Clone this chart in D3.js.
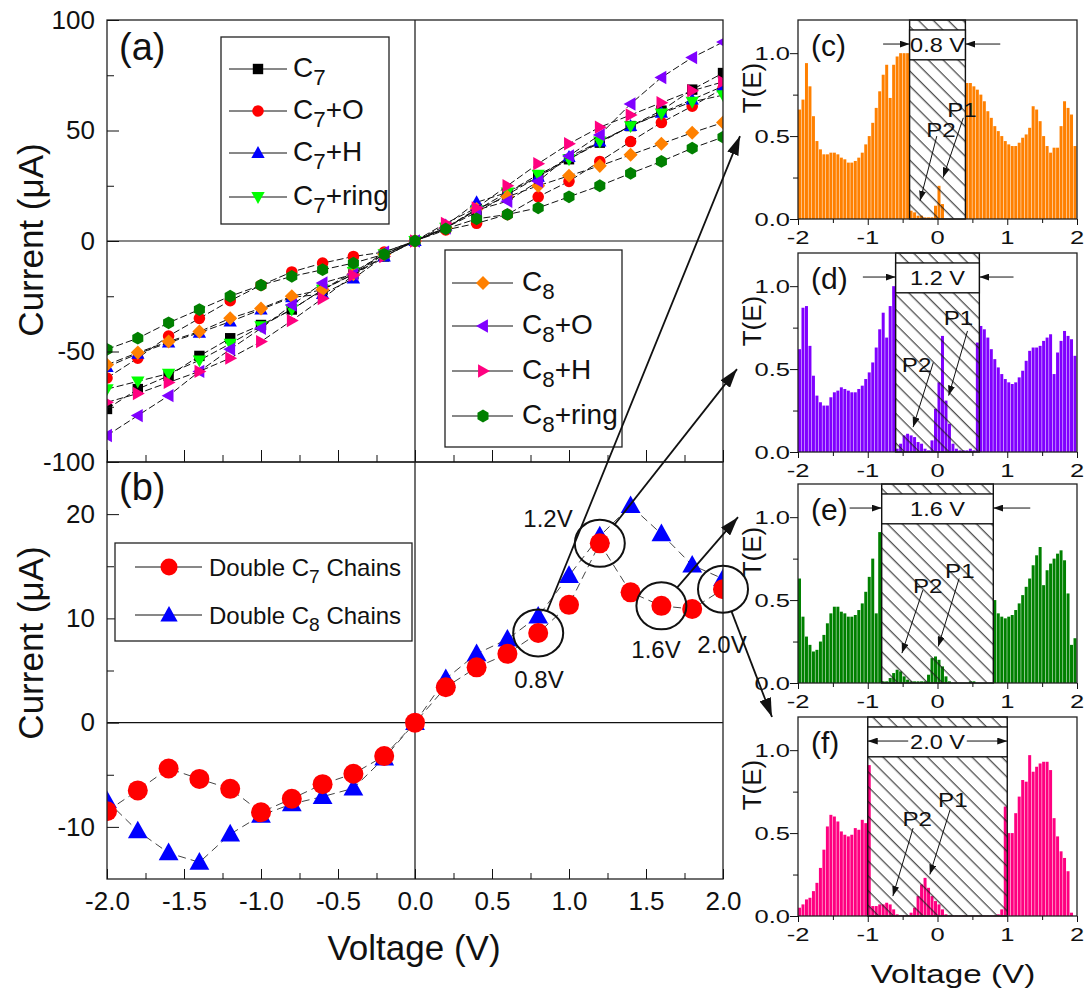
<!DOCTYPE html>
<html>
<head>
<meta charset="utf-8">
<script src="https://cdn.jsdelivr.net/npm/d3@7/dist/d3.min.js"></script>
<style>
  body { margin: 0; background: #fff; }
  svg text { font-family: "Liberation Sans", Arial, Helvetica, sans-serif; fill: #111; }
</style>
</head>
<body>
<div id="chart"></div>
<script>
// ---------- data ----------
var volts = [-2.0,-1.8,-1.6,-1.4,-1.2,-1.0,-0.8,-0.6,-0.4,-0.2,0.0,0.2,0.4,0.6,0.8,1.0,1.2,1.4,1.6,1.8,2.0];

// panel (a), current in uA
var c7     = [-76,-67,-61,-52,-44,-38,-31,-22,-15,-7,0,6,13,21,29,37,44.5,52,59,68.5,76];
var c7O    = [-62,-53,-43,-35,-27,-20,-14,-10,-7,-5,0,5,8,12,20,27,36,45,53.6,61,69];
var c7H    = [-57,-51,-46,-41.5,-36.5,-31,-25.5,-24,-17,-7,0,7,17.5,22,29,38,45,52,58,64,70];
var c7Ring = [-67,-63.5,-60,-54,-46.5,-38.5,-31,-22,-14,-6,0,6,14,22,30,37,45,52,57.7,63,66];
var c8     = [-56,-50.5,-45.5,-41,-35,-30.5,-25,-22,-15,-6,0,6,14.5,20,25,29.5,34,39,44,49,53.6];
var c8O    = [-88,-79,-70,-59,-49,-39.5,-29,-19,-15,-5,0,6,14,18,27,38.5,48,62,74,83,90];
var c8H    = [-73,-69,-64,-59,-53,-45.5,-36,-26,-15.5,-7,0,8,15,25,35,44,51.5,57,62.6,68,72];
var c8Ring = [-49,-44,-37,-31,-25,-20,-16,-13,-10,-6,0,5.5,10,12,15,20,25,30.6,36,42,47];

// panel (b)
var dblC7 = [-8.5,-6.5,-4.4,-5.4,-6.35,-8.6,-7.3,-5.9,-4.9,-3.2,0,3.4,5.3,6.6,8.6,11.3,17.2,12.5,11.2,10.9,12.8];
var dblC8 = [-7.5,-10.4,-12.5,-13.4,-10.7,-8.9,-7.8,-7.1,-6.3,-3.4,0,4.2,6.6,8.0,10.2,14.1,17.9,20.8,18.1,15.1,13.8];
var markedBias = [0.8, 1.2, 1.6, 2.0];

// panels (c)-(f): transmission, 80 bins of 0.05 eV from -2
var binStart = -2, binWidth = 0.05;
var transC = [0.66,0.72,0.94,0.80,0.62,0.47,0.42,0.39,0.39,0.40,0.40,0.39,0.37,0.36,0.34,0.34,0.35,0.37,0.40,0.45,
  0.50,0.58,0.67,0.77,0.87,0.93,0.73,0.93,0.98,1.0,1.0,1.0,
  0.05,0.04,0.02,0.02,0.01,0.01,0.01,0.08,0.20,0.09,0,0,0,0,0,0,
  0.82,0.82,0.80,0.78,0.75,0.71,0.65,0.61,0.56,0.53,0.50,0.47,0.45,0.44,0.44,0.46,0.49,0.51,0.55,0.68,
  0.66,0.59,0.50,0.44,0.40,0.43,0.43,0.56,0.71,0.67,0.63,0.44];
var transD = [0.62,0.87,0.88,0.64,0.46,0.34,0.30,0.28,0.28,0.33,0.36,0.37,0.39,0.38,0.37,0.36,0.36,0.38,0.40,0.44,
  0.48,0.54,0.63,0.74,0.84,0.69,0.88,1.0,
  0.02,0.05,0.10,0.11,0.10,0.09,0.06,0.05,0.02,0.01,0.07,0.26,0.42,0.70,0.31,0.17,0.05,0.02,0.01,0.01,0.01,0.02,0.01,0.66,
  0.76,0.74,0.69,0.62,0.56,0.51,0.47,0.44,0.42,0.41,0.42,0.45,0.49,0.55,0.61,0.63,0.63,0.64,0.67,0.69,
  0.71,0.47,0.60,0.67,0.73,0.70,0.68,0.58];
var transE = [0.63,0.40,0.28,0.23,0.19,0.20,0.25,0.29,0.36,0.42,0.46,0.46,0.43,0.42,0.40,0.40,0.41,0.44,0.48,0.55,
  0.64,0.75,0.42,0.91,
  0.01,0.01,0.03,0.06,0.08,0.07,0.04,0.02,0.01,0.01,0.01,0.01,0.01,0.05,0.15,0.16,0.14,0.10,0.04,0.01,
  0,0,0,0,0,0.01,0.01,0,0,0,0,0,
  0.50,0.42,0.40,0.39,0.40,0.41,0.44,0.48,0.53,0.58,0.63,0.71,0.77,0.82,0.59,0.68,0.72,0.75,0.78,0.80,
  0.74,0.54,0.23,0.27];
var transF = [0.05,0.07,0.10,0.11,0.15,0.20,0.29,0.40,0.54,0.61,0.60,0.57,0.51,0.49,0.48,0.49,0.53,0.52,0.58,0.56,
  0.91,0.06,0.06,0.07,0.07,0.08,0.07,0.04,0.01,0.005,0.005,0.005,0.02,0.05,0.12,0.19,0.23,0.17,0.12,0.09,
  0.07,0.04,0.01,0.003,0.003,0.003,0.003,0.003,0.003,0.003,0.003,0.003,0.003,0.003,0.003,0.003,0.003,0.01,0.04,
  0.66,0.50,0.50,0.62,0.72,0.82,0.81,0.97,0.87,0.90,0.92,0.93,0.93,0.88,0.59,0.48,0.39,0.35,0.27,0.02];

var biasWindow = [0.8, 1.2, 1.6, 2.0];
var windowText = ["0.8 V", "1.2 V", "1.6 V", "2.0 V"];
var arrowTailL = [-0.78, -1.07, -1.26, -0.42];
var arrowTailR = [0.90, 1.09, 1.33, 0.42];
var p1Text  = [[0.35,0.66],[0.30,0.81],[0.32,0.68],[0.22,0.70]];
var p1Arrow = [[0.37,0.61,0.08,0.25],[0.43,0.73,0.16,0.34],[0.31,0.63,0.01,0.22],[0.18,0.64,-0.11,0.25]];
var p2Text  = [[0.05,0.54],[-0.30,0.53],[-0.14,0.59],[-0.29,0.59]];
var p2Arrow = [[-0.01,0.50,-0.25,0.11],[-0.06,0.54,-0.35,0.15],[-0.21,0.56,-0.51,0.18],[-0.35,0.53,-0.64,0.12]];

var yTicksA = [-100,-50,0,50,100], yMinorA = [-75,-25,25,75];
var yTicksB = [-10,0,10,20], yMinorB = [-5,5,15];
var xTicksL = [-2,-1.5,-1,-0.5,0,0.5,1,1.5,2], xMinorL = [-1.75,-1.25,-0.75,-0.25,0.25,0.75,1.25,1.75];
var xTicksR = [-2,-1,0,1,2], xMinorR = [-1.5,-0.5,0.5,1.5];
var yTicksR = [0,0.5,1.0], yMinorR = [0.25,0.75];

// ---------- setup ----------
var svg = d3.select("#chart").append("svg")
    .attr("width", 1085).attr("height", 1005)
    .style("display", "block").style("background", "white");
var defs = svg.append("defs");

defs.append("clipPath").attr("id", "clipA").append("rect")
    .attr("x", 107).attr("y", 20).attr("width", 616).attr("height", 442);
defs.append("clipPath").attr("id", "clipB").append("rect")
    .attr("x", 107).attr("y", 462).attr("width", 616).attr("height", 417);

var hatch = defs.append("pattern").attr("id", "hatch")
    .attr("patternUnits", "userSpaceOnUse").attr("width", 10.5).attr("height", 10.5)
    .attr("patternTransform", "rotate(-45)");
hatch.append("line").attr("x1", 5).attr("y1", -1).attr("x2", 5).attr("y2", 12)
    .attr("stroke", "#1a1a1a").attr("stroke-width", 1);

function addHead(id, len, wid) {
    defs.append("marker").attr("id", id)
        .attr("markerUnits", "userSpaceOnUse")
        .attr("markerWidth", len).attr("markerHeight", wid)
        .attr("refX", len).attr("refY", wid / 2).attr("orient", "auto")
        .append("path").attr("d", "M0,0L" + len + "," + wid / 2 + "L0," + wid + "Z").attr("fill", "#111");
}
addHead("headS", 10, 7);
addHead("headL", 19, 12);

function sym(shape, a) {
    if (shape == "square") return "M" + (-a) + "," + (-a) + "H" + a + "V" + a + "H" + (-a) + "Z";
    if (shape == "circle") return d3.symbol(d3.symbolCircle, Math.PI * a * a)();
    if (shape == "up") return "M0," + (-1.2 * a) + "L" + (1.15 * a) + "," + (0.85 * a) + "L" + (-1.15 * a) + "," + (0.85 * a) + "Z";
    if (shape == "down") return "M0," + (1.2 * a) + "L" + (1.15 * a) + "," + (-0.85 * a) + "L" + (-1.15 * a) + "," + (-0.85 * a) + "Z";
    if (shape == "left") return "M" + (-1.2 * a) + ",0L" + (0.85 * a) + "," + (-1.15 * a) + "L" + (0.85 * a) + "," + (1.15 * a) + "Z";
    if (shape == "right") return "M" + (1.2 * a) + ",0L" + (-0.85 * a) + "," + (-1.15 * a) + "L" + (-0.85 * a) + "," + (1.15 * a) + "Z";
    if (shape == "diamond") return "M0," + (-1.3 * a) + "L" + (1.3 * a) + ",0L0," + (1.3 * a) + "L" + (-1.3 * a) + ",0Z";
    var p = [];
    for (var k = 0; k < 6; k++) {
        var t = Math.PI / 3 * k + Math.PI / 6;
        p.push([1.1 * a * Math.cos(t), 1.1 * a * Math.sin(t)]);
    }
    return "M" + p.join("L") + "Z";
}

function subText(g, x, y, parts, fs) {
    var t = g.append("text").attr("x", x).attr("y", y).attr("font-size", fs);
    t.append("tspan").text(parts[0]);
    t.append("tspan").attr("font-size", fs * 0.8).attr("dy", fs * 0.28).text(parts[1]);
    t.append("tspan").attr("dy", -fs * 0.28).text(parts[2]);
    return t;
}

function drawSeries(g, xs, ys, vals, color, shape, size, dash, lineColor) {
    g.append("path")
        .attr("d", d3.line().x(function (d, i) { return xs(volts[i]); }).y(function (d) { return ys(d); })(vals))
        .attr("fill", "none").attr("stroke", lineColor).attr("stroke-width", 1)
        .attr("stroke-dasharray", dash);
    g.selectAll(null).data(vals).enter().append("path")
        .attr("transform", function (d, i) { return "translate(" + xs(volts[i]) + "," + ys(d) + ")"; })
        .attr("d", sym(shape, size)).attr("fill", color);
}

function styleAxis(g, fs) {
    g.attr("font-family", '"Liberation Sans", Arial, sans-serif').attr("font-size", fs).attr("color", "#111");
    g.select(".domain").remove();
}

// ---------- left column: panels (a) and (b) ----------
var xL = d3.scaleLinear().domain([-2, 2]).range([107, 723]);
var yA = d3.scaleLinear().domain([-100, 100]).range([462, 20]);
var yB = d3.scaleLinear().domain([-15, 25]).range([879, 462]);

// zero lines
[[yA, 20, 462], [yB, 462, 879]].forEach(function (p) {
    svg.append("line").attr("x1", 107).attr("x2", 723).attr("y1", p[0](0)).attr("y2", p[0](0))
        .attr("stroke", "#111").attr("stroke-width", 1.2);
    svg.append("line").attr("x1", xL(0)).attr("x2", xL(0)).attr("y1", p[1]).attr("y2", p[2])
        .attr("stroke", "#111").attr("stroke-width", 1.2);
});

var seriesA = [
    { name: ["C", "7", ""], vals: c7, color: "#000000", shape: "square", size: 5.2 },
    { name: ["C", "7", "+O"], vals: c7O, color: "#ff0000", shape: "circle", size: 5.8 },
    { name: ["C", "7", "+H"], vals: c7H, color: "#0000ff", shape: "up", size: 5.8 },
    { name: ["C", "7", "+ring"], vals: c7Ring, color: "#00ff00", shape: "down", size: 5.8 },
    { name: ["C", "8", ""], vals: c8, color: "#ff8000", shape: "diamond", size: 5.4 },
    { name: ["C", "8", "+O"], vals: c8O, color: "#8000ff", shape: "left", size: 5.8 },
    { name: ["C", "8", "+H"], vals: c8H, color: "#ff0080", shape: "right", size: 5.8 },
    { name: ["C", "8", "+ring"], vals: c8Ring, color: "#008000", shape: "hex", size: 5.8 }
];

var gA = svg.append("g").attr("clip-path", "url(#clipA)");
seriesA.forEach(function (s) { drawSeries(gA, xL, yA, s.vals, s.color, s.shape, s.size, "7,3", "#111"); });

var gB = svg.append("g").attr("clip-path", "url(#clipB)");
drawSeries(gB, xL, yB, dblC8, "#0000ff", "up", 8.6, "8,5", "#444");
drawSeries(gB, xL, yB, dblC7, "#ff0000", "circle", 10, "8,5", "#444");

// frames
svg.append("rect").attr("x", 107).attr("y", 20).attr("width", 616).attr("height", 442)
    .attr("fill", "none").attr("stroke", "#222").attr("stroke-width", 1.3);
svg.append("rect").attr("x", 107).attr("y", 462).attr("width", 616).attr("height", 417)
    .attr("fill", "none").attr("stroke", "#222").attr("stroke-width", 1.3);

// axes (inward ticks)
var fmtInt = function (d) { return String(d); };
var ax;
ax = svg.append("g").attr("transform", "translate(107,0)")
    .call(d3.axisLeft(yA).tickValues(yTicksA).tickSize(-12).tickPadding(12).tickFormat(fmtInt));
styleAxis(ax, 26);
ax = svg.append("g").attr("transform", "translate(107,0)")
    .call(d3.axisLeft(yA).tickValues(yMinorA).tickSize(-7).tickFormat(""));
styleAxis(ax, 26);
ax = svg.append("g").attr("transform", "translate(107,0)")
    .call(d3.axisLeft(yB).tickValues(yTicksB).tickSize(-12).tickPadding(12).tickFormat(fmtInt));
styleAxis(ax, 26);
ax = svg.append("g").attr("transform", "translate(107,0)")
    .call(d3.axisLeft(yB).tickValues(yMinorB).tickSize(-7).tickFormat(""));
styleAxis(ax, 26);
ax = svg.append("g").attr("transform", "translate(0,462)")
    .call(d3.axisBottom(xL).tickValues(xTicksL).tickSize(-12).tickFormat(""));
styleAxis(ax, 26);
ax = svg.append("g").attr("transform", "translate(0,462)")
    .call(d3.axisBottom(xL).tickValues(xMinorL).tickSize(-7).tickFormat(""));
styleAxis(ax, 26);
ax = svg.append("g").attr("transform", "translate(0,879)")
    .call(d3.axisBottom(xL).tickValues(xTicksL).tickSize(-10).tickPadding(13)
        .tickFormat(function (d) { return d.toFixed(1); }));
styleAxis(ax, 26);
ax = svg.append("g").attr("transform", "translate(0,879)")
    .call(d3.axisBottom(xL).tickValues(xMinorL).tickSize(-6).tickFormat(""));
styleAxis(ax, 26);

// axis titles
svg.append("text").attr("transform", "translate(43,240) rotate(-90)")
    .attr("text-anchor", "middle").attr("font-size", 35).text("Current (\u03bcA)");
svg.append("text").attr("transform", "translate(43,643) rotate(-90)")
    .attr("text-anchor", "middle").attr("font-size", 35).text("Current (\u03bcA)");
svg.append("text").attr("x", 414).attr("y", 960)
    .attr("text-anchor", "middle").attr("font-size", 35).text("Voltage (V)");
svg.append("text").attr("x", 119).attr("y", 60).attr("font-size", 38).text("(a)");
svg.append("text").attr("x", 119).attr("y", 500).attr("font-size", 38).text("(b)");

// legends of (a)
function legendBox(x0, y0, x1, y1) {
    svg.append("rect").attr("x", x0).attr("y", y0).attr("width", x1 - x0).attr("height", y1 - y0)
        .attr("fill", "white").attr("stroke", "#222").attr("stroke-width", 1.3);
}
legendBox(221, 37, 389, 224);
legendBox(445, 250, 622, 447);
var legRows1 = [69, 111, 153, 197], legRows2 = [283, 326, 371, 416];
seriesA.forEach(function (s, i) {
    var left = i < 4;
    var ry = left ? legRows1[i] : legRows2[i - 4];
    var lx0 = left ? 229 : 452, lx1 = left ? 287 : 513, mx = left ? 258 : 483, tx = left ? 293 : 522;
    svg.append("line").attr("x1", lx0).attr("x2", lx1).attr("y1", ry).attr("y2", ry)
        .attr("stroke", "#111").attr("stroke-width", 1);
    svg.append("path").attr("transform", "translate(" + mx + "," + ry + ")")
        .attr("d", sym(s.shape, s.size)).attr("fill", s.color);
    subText(svg, tx, ry + 8, s.name, 28);
});

// legend of (b)
legendBox(115, 543, 412, 641);
[["Double C", "7", " Chains", "#ff0000", "circle", 8.5, 567],
 ["Double C", "8", " Chains", "#0000ff", "up", 7.5, 615]].forEach(function (e) {
    svg.append("line").attr("x1", 135).attr("x2", 202).attr("y1", e[6]).attr("y2", e[6])
        .attr("stroke", "#111").attr("stroke-width", 1);
    svg.append("path").attr("transform", "translate(169," + e[6] + ")")
        .attr("d", sym(e[4], e[5])).attr("fill", e[3]);
    subText(svg, 209, e[6] + 9, [e[0], e[1], e[2]], 24);
});

// ---------- right column: panels (c)-(f) ----------
var xR = d3.scaleLinear().domain([-2, 2]).range([798, 1077]);
var panelTop = [20, 253, 484, 717], panelH = 199;
var panels = [
    { tag: "(c)", t: transC, color: "#ff8000" },
    { tag: "(d)", t: transD, color: "#8000ff" },
    { tag: "(e)", t: transE, color: "#008000" },
    { tag: "(f)", t: transF, color: "#ff0080" }
];
var yRs = [];
var stretch = 1.38;

panels.forEach(function (p, k) {
    var top = panelTop[k];
    var yR = d3.scaleLinear().domain([0, 1.2]).range([top + panelH, top]);
    yRs.push(yR);
    var g = svg.append("g");
    var bw = xR(binStart + binWidth) - xR(binStart);

    g.selectAll("rect.bar").data(p.t).enter().append("rect").attr("class", "bar")
        .attr("x", function (d, i) { return xR(binStart + i * binWidth); })
        .attr("width", bw - 0.5)
        .attr("y", function (d) { return yR(d); })
        .attr("height", function (d) { return yR(0) - yR(d); })
        .attr("fill", p.color);

    // bias window
    var w = biasWindow[k];
    g.append("rect").attr("x", xR(-w / 2)).attr("y", top)
        .attr("width", xR(w / 2) - xR(-w / 2)).attr("height", panelH)
        .attr("fill", "url(#hatch)").attr("stroke", "#111").attr("stroke-width", 1.4);
    g.append("rect").attr("x", xR(-w / 2)).attr("y", yR(1.14))
        .attr("width", xR(w / 2) - xR(-w / 2)).attr("height", yR(0.96) - yR(1.14))
        .attr("fill", "white").attr("stroke", "#111").attr("stroke-width", 1.4);
    g.append("text").attr("transform", "translate(" + xR(0) + "," + yR(1.05) + ") scale(1.12,1)")
        .attr("text-anchor", "middle").attr("dy", "0.36em").attr("font-size", 21).text(windowText[k]);
    var ay = yR(1.055);
    g.append("line").attr("x1", xR(arrowTailL[k])).attr("x2", xR(-w / 2)).attr("y1", ay).attr("y2", ay)
        .attr("stroke", "#111").attr("stroke-width", 1).attr("marker-end", "url(#headS)");
    g.append("line").attr("x1", xR(arrowTailR[k])).attr("x2", xR(w / 2)).attr("y1", ay).attr("y2", ay)
        .attr("stroke", "#111").attr("stroke-width", 1).attr("marker-end", "url(#headS)");

    // P1 / P2
    [[p1Text[k], p1Arrow[k], "P1"], [p2Text[k], p2Arrow[k], "P2"]].forEach(function (q) {
        g.append("line").attr("x1", xR(q[1][0])).attr("y1", yR(q[1][1]))
            .attr("x2", xR(q[1][2])).attr("y2", yR(q[1][3]))
            .attr("stroke", "#111").attr("stroke-width", 1).attr("marker-end", "url(#headS)");
        g.append("text").attr("transform", "translate(" + xR(q[0][0]) + "," + yR(q[0][1]) + ") scale(1.15,1)")
            .attr("text-anchor", "middle").attr("dy", "0.36em").attr("font-size", 21).text(q[2]);
    });

    // frame
    g.append("rect").attr("x", 798).attr("y", top).attr("width", 279).attr("height", panelH)
        .attr("fill", "none").attr("stroke", "#222").attr("stroke-width", 1.3);

    // ticks (outward)
    var a1 = g.append("g").attr("transform", "translate(798,0)")
        .call(d3.axisLeft(yR).tickValues(yTicksR).tickSize(8).tickFormat(""));
    styleAxis(a1, 18);
    var a2 = g.append("g").attr("transform", "translate(798,0)")
        .call(d3.axisLeft(yR).tickValues(yMinorR).tickSize(5).tickFormat(""));
    styleAxis(a2, 18);
    var a3 = g.append("g").attr("transform", "translate(0," + (top + panelH) + ")")
        .call(d3.axisBottom(xR).tickValues(xTicksR).tickSize(6).tickFormat(""));
    styleAxis(a3, 18);
    var a4 = g.append("g").attr("transform", "translate(0," + (top + panelH) + ")")
        .call(d3.axisBottom(xR).tickValues(xMinorR).tickSize(4).tickFormat(""));
    styleAxis(a4, 18);

    // stretched tick labels
    yTicksR.forEach(function (v) {
        g.append("text").attr("transform", "translate(790," + yR(v) + ") scale(" + stretch + ",1)")
            .attr("text-anchor", "end").attr("dy", "0.36em").attr("font-size", 18.5)
            .text(d3.format(".1f")(v));
    });
    xTicksR.forEach(function (v) {
        g.append("text").attr("transform", "translate(" + xR(v) + "," + (top + panelH + 25) + ") scale(" + stretch + ",1)")
            .attr("text-anchor", "middle").attr("font-size", 18.5).text(String(v));
    });

    g.append("text").attr("x", 811).attr("y", top + 36).attr("font-size", 30).text(p.tag);
    g.append("text").attr("transform", "translate(761," + (top + 68) + ") rotate(-90)")
        .attr("text-anchor", "middle").attr("font-size", 26).text("T(E)");
});

svg.append("text").attr("transform", "translate(953,983) scale(1.33,1)")
    .attr("text-anchor", "middle").attr("font-size", 25).text("Voltage (V)");

// ---------- annotations in (b) linking to (c)-(f) ----------
var biasLabelPos = [[539, 688], [548, 527], [656, 658], [722, 653]];
var targets = [
    [798 - 58, yRs[0](0.5)],
    [798 - 61, yRs[1](0.5)],
    [798 - 60, yRs[2](1.0)],
    [798 - 26, yRs[3](1.2)]
];
markedBias.forEach(function (v, k) {
    var i = volts.indexOf(v);
    var cx = xL(v), cy = yB(dblC7[i]);
    svg.append("ellipse").attr("cx", cx).attr("cy", cy).attr("rx", 25).attr("ry", 23.5)
        .attr("fill", "none").attr("stroke", "#111").attr("stroke-width", 2);
    svg.append("text").attr("x", biasLabelPos[k][0]).attr("y", biasLabelPos[k][1])
        .attr("text-anchor", "middle").attr("font-size", 24).text(v.toFixed(1) + "V");
    var tx = targets[k][0], ty = targets[k][1];
    var dx = tx - cx, dy = ty - cy, L = Math.sqrt(dx * dx + dy * dy);
    svg.append("line")
        .attr("x1", cx + dx / L * 24).attr("y1", cy + dy / L * 24)
        .attr("x2", tx).attr("y2", ty)
        .attr("stroke", "#111").attr("stroke-width", 1.8).attr("marker-end", "url(#headL)");
});
</script>
</body>
</html>
